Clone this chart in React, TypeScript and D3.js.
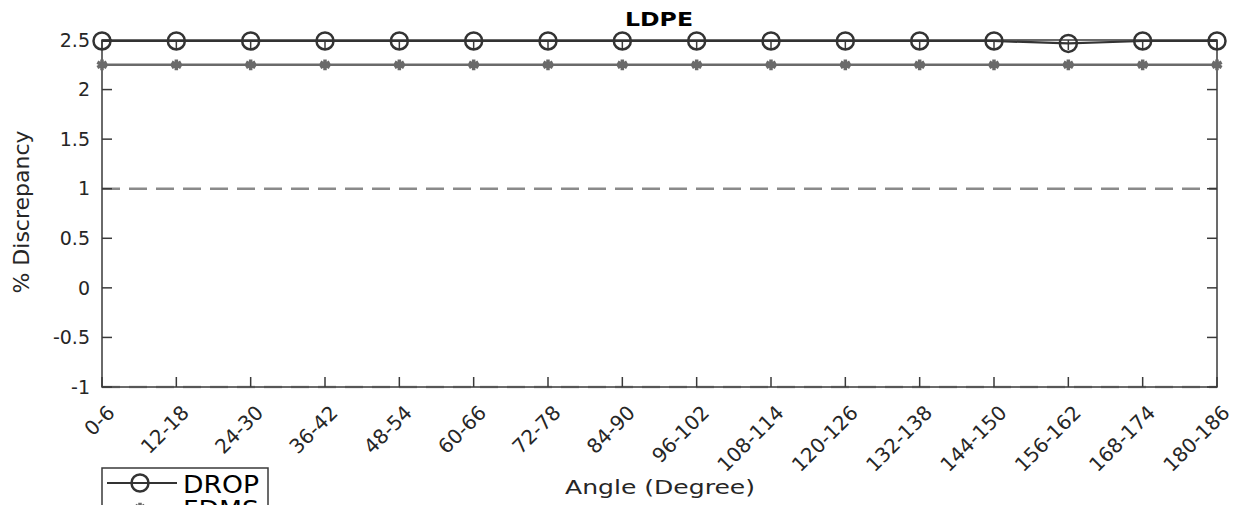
import React, { useEffect, useRef } from 'react';
import * as d3 from 'd3';

const categories = ['0-6', '12-18', '24-30', '36-42', '48-54', '60-66', '72-78', '84-90',
  '96-102', '108-114', '120-126', '132-138', '144-150', '156-162', '168-174', '180-186'];
const dropValues = [2.49, 2.49, 2.49, 2.49, 2.49, 2.49, 2.49, 2.49,
  2.49, 2.49, 2.49, 2.49, 2.49, 2.465, 2.49, 2.49];
const secondValues = [2.25, 2.25, 2.25, 2.25, 2.25, 2.25, 2.25, 2.25,
  2.25, 2.25, 2.25, 2.25, 2.25, 2.25, 2.25, 2.25];
const yTicks = [-1, -0.5, 0, 0.5, 1, 1.5, 2, 2.5];
const thresholds = [1, -1];
const legendNames = ['DROP', 'FDMS'];

export default function App() {
  const ref = useRef<SVGSVGElement>(null);

  useEffect(() => {
    const svg = d3.select(ref.current);
    svg.selectAll('*').remove();

    const left = 102, right = 1217, top = 40, bottom = 387;
    const font = 'DejaVu Sans, sans-serif';
    const axisColor = '#3a3a3a';

    const x = d3.scalePoint<string>().domain(categories).range([left, right]);
    const y = d3.scaleLinear().domain([-1, 2.5]).range([bottom, top]);

    // threshold dashed lines
    svg.selectAll('.thr')
      .data(thresholds)
      .join('line')
      .attr('x1', left).attr('x2', right)
      .attr('y1', d => y(d)).attr('y2', d => y(d))
      .attr('stroke', d => d === 1 ? '#8a8a8a' : '#b0b0b0')
      .attr('stroke-width', 2.5)
      .attr('stroke-dasharray', '18,9');

    // box with ticks on all sides
    const g = svg.append('g').attr('stroke', axisColor).attr('stroke-width', 1.5).attr('fill', 'none');
    g.append('rect').attr('x', left).attr('y', top).attr('width', right - left).attr('height', bottom - top);
    categories.forEach(c => {
      g.append('line').attr('x1', x(c)!).attr('x2', x(c)!).attr('y1', bottom).attr('y2', bottom - 10);
      g.append('line').attr('x1', x(c)!).attr('x2', x(c)!).attr('y1', top).attr('y2', top + 10);
    });
    yTicks.forEach(t => {
      g.append('line').attr('x1', left).attr('x2', left + 10).attr('y1', y(t)).attr('y2', y(t));
      g.append('line').attr('x1', right).attr('x2', right - 10).attr('y1', y(t)).attr('y2', y(t));
    });

    // y tick labels
    svg.selectAll('.yt')
      .data(yTicks)
      .join('text')
      .attr('x', 90).attr('y', d => y(d))
      .attr('dy', '0.35em')
      .attr('text-anchor', 'end')
      .attr('font-family', font).attr('font-size', 19).attr('fill', '#262626')
      .text(d => String(d));

    // x tick labels
    svg.selectAll('.xt')
      .data(categories)
      .join('text')
      .attr('transform', d => `translate(${x(d)! + 4},${bottom + 17}) rotate(-45)`)
      .attr('dy', '0.7em')
      .attr('text-anchor', 'end')
      .attr('font-family', font).attr('font-size', 20).attr('fill', '#262626')
      .text(d => d);

    // second series (stars)
    const line = d3.line<number>().x((_, i) => x(categories[i])!).y(d => y(d));
    svg.append('path').datum(secondValues)
      .attr('d', line).attr('fill', 'none').attr('stroke', '#6a6a6a').attr('stroke-width', 2.5);
    const star = d3.symbol().type(d3.symbolAsterisk).size(80);
    svg.selectAll('.star')
      .data(secondValues)
      .join('path')
      .attr('transform', (d, i) => `translate(${x(categories[i])},${y(d)})`)
      .attr('d', star())
      .attr('fill', 'none').attr('stroke', '#6a6a6a').attr('stroke-width', 3.5);

    // DROP series
    svg.append('path').datum(dropValues)
      .attr('d', line).attr('fill', 'none').attr('stroke', '#333').attr('stroke-width', 2.2);
    svg.selectAll('.circ')
      .data(dropValues)
      .join('circle')
      .attr('cx', (d, i) => x(categories[i])!)
      .attr('cy', d => y(d))
      .attr('r', 8.5)
      .attr('fill', 'none').attr('stroke', '#333').attr('stroke-width', 2.5);

    // title
    svg.append('text').attr('x', 659).attr('y', 26)
      .attr('text-anchor', 'middle').attr('font-family', font).attr('font-weight', 'bold')
      .attr('font-size', 19).attr('fill', '#000')
      .attr('textLength', 68).attr('lengthAdjust', 'spacingAndGlyphs').text('LDPE');

    // axis labels
    svg.append('text').attr('transform', `translate(29,212) rotate(-90)`)
      .attr('text-anchor', 'middle').attr('font-family', font).attr('font-size', 22)
      .attr('fill', '#262626').text('% Discrepancy');
    svg.append('text').attr('x', 660).attr('y', 494)
      .attr('text-anchor', 'middle').attr('font-family', font).attr('font-size', 20)
      .attr('fill', '#262626')
      .attr('textLength', 190).attr('lengthAdjust', 'spacingAndGlyphs').text('Angle (Degree)');

    // legend (cut off by the bottom edge, as in the source)
    const lg = svg.append('g');
    lg.append('rect').attr('x', 102).attr('y', 468).attr('width', 166).attr('height', 62)
      .attr('fill', '#fff').attr('stroke', '#3a3a3a').attr('stroke-width', 1.5);
    legendNames.forEach((n, i) => {
      const ly = 483 + i * 25;
      lg.append('line').attr('x1', 107).attr('x2', 177).attr('y1', ly).attr('y2', ly)
        .attr('stroke', i === 0 ? '#333' : '#6a6a6a').attr('stroke-width', 2.2);
      if (i === 0) {
        lg.append('circle').attr('cx', 140).attr('cy', ly).attr('r', 8.5)
          .attr('fill', 'none').attr('stroke', '#333').attr('stroke-width', 2.5);
      } else {
        lg.append('path').attr('transform', `translate(140,${ly})`).attr('d', star())
          .attr('fill', 'none').attr('stroke', '#6a6a6a').attr('stroke-width', 3.5);
      }
      lg.append('text').attr('x', 183).attr('y', ly + 10)
        .attr('font-family', font).attr('font-size', 24).attr('fill', '#000')
        .attr('textLength', 76).attr('lengthAdjust', 'spacingAndGlyphs').text(n);
    });
  }, []);

  return (
    <svg ref={ref} width={1234} height={505}
      style={{ position: 'absolute', left: 0, top: 0, background: '#fff' }} />
  );
}
